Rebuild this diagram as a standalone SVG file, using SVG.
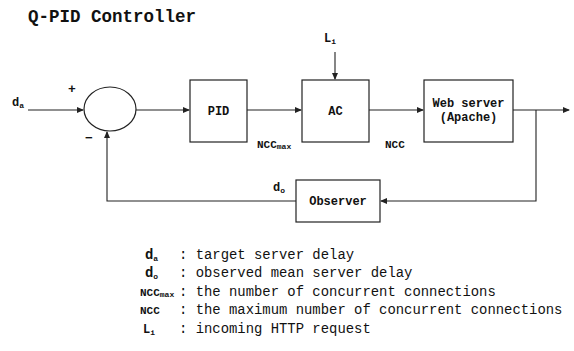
<svg xmlns="http://www.w3.org/2000/svg" width="574" height="351" viewBox="0 0 574 351">
<style>
text{font-family:"Liberation Mono","Courier New",monospace;fill:#111}
.b{font-weight:bold}
.box{fill:#fff;stroke:#222;stroke-width:1.2}
.ln{fill:none;stroke:#222;stroke-width:1.1}
.t{font-size:12px;font-weight:bold;text-anchor:middle}
.lg{font-size:13.9px}
.sub{font-size:8px}
</style>
<defs>
<marker id="ah" markerWidth="7" markerHeight="6" refX="6" refY="3" orient="auto" markerUnits="userSpaceOnUse">
<path d="M0,0 L7,3 L0,6 Z" fill="#222"/>
</marker>
</defs>
<rect width="574" height="351" fill="#fff"/>
<text x="28" y="22" class="b" font-size="17.5">Q-PID Controller</text>

<g id="connectors">
<line class="ln" x1="28" y1="110" x2="83" y2="110" marker-end="url(#ah)"/>
<line class="ln" x1="136" y1="110" x2="189" y2="110" marker-end="url(#ah)"/>
<line class="ln" x1="247" y1="110" x2="301" y2="110" marker-end="url(#ah)"/>
<line class="ln" x1="335" y1="52" x2="335" y2="79" marker-end="url(#ah)"/>
<line class="ln" x1="369" y1="110" x2="423" y2="110" marker-end="url(#ah)"/>
<line class="ln" x1="513" y1="110" x2="569" y2="110" marker-end="url(#ah)"/>
<polyline class="ln" points="536,110 536,201 381,201" marker-end="url(#ah)"/>
<polyline class="ln" points="296,201 107,201 107,132" marker-end="url(#ah)"/>
<text x="12" y="106" class="b" font-size="12">d<tspan class="sub" dy="2">a</tspan></text>
<text x="68" y="93" class="b" font-size="13">+</text>
<text x="85" y="142" class="b" font-size="13">−</text>
<text x="324" y="42" class="b" font-size="12">L<tspan class="sub" dy="2">i</tspan></text>
<text x="257" y="148" class="b" font-size="11">NCC<tspan class="sub" dy="1">max</tspan></text>
<text x="385" y="148" class="b" font-size="11">NCC</text>
<text x="273" y="191" class="b" font-size="12">d<tspan class="sub" dy="2">o</tspan></text>
</g>

<g id="sum"><ellipse cx="110" cy="109" rx="26" ry="22" class="box"/></g>
<g id="pid"><rect x="190" y="80" width="57" height="62" class="box"/><text x="218.5" y="115" class="t">PID</text></g>
<g id="ac"><rect x="302" y="80" width="67" height="62" class="box"/><text x="335.5" y="115" class="t">AC</text></g>
<g id="web"><rect x="424" y="80" width="89" height="62" class="box"/><text x="468.5" y="107" class="t">Web server</text><text x="468.5" y="121" class="t">(Apache)</text></g>
<g id="observer"><rect x="296" y="180" width="84" height="42" class="box"/><text x="338" y="205" class="t">Observer</text></g>

<g id="legend" class="lg">
<text x="145" y="259" class="b">d<tspan class="sub" dy="2">a</tspan></text>
<text x="179" y="259">: target server delay</text>
<text x="145" y="277" class="b">d<tspan class="sub" dy="2">o</tspan></text>
<text x="179" y="277">: observed mean server delay</text>
<text x="140" y="296" class="b" font-size="11">NCC<tspan class="sub" dy="1">max</tspan></text>
<text x="179" y="296">: the number of concurrent connections</text>
<text x="140" y="314" class="b" font-size="11">NCC</text>
<text x="179" y="314">: the maximum number of concurrent connections</text>
<text x="143" y="333" class="b" font-size="12">L<tspan class="sub" dy="2">i</tspan></text>
<text x="179" y="333">: incoming HTTP request</text>
</g>
</svg>
